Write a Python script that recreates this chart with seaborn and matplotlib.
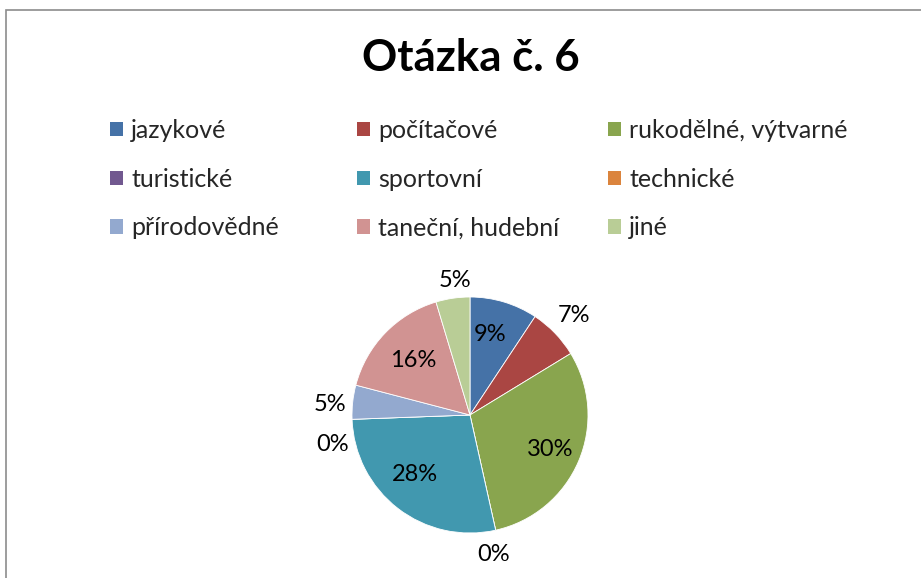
import numpy as np
import matplotlib
matplotlib.use("Agg")
import matplotlib.pyplot as plt
from matplotlib.patches import Rectangle
import seaborn as sns

# data
categories = ["jazykové", "počítačové", "rukodělné, výtvarné",
              "turistické", "sportovní", "technické",
              "přírodovědné", "taneční, hudební", "jiné"]
counts = [4, 3, 13, 0, 12, 0, 2, 7, 2]
title = "Otázka č. 6"

colors = ["#4572A7", "#AA4643", "#89A54E", "#71588F", "#4198AF",
          "#DB843D", "#93A9CF", "#D19392", "#B9CD96"]

# label placement (style only): radius factor and clockwise nudge in degrees
label_r = [0.70, 1.22, 0.74, 1.20, 0.69, 1.19, 1.19, 0.67, 1.15]
label_nudge = [-3, 0, 0, 3, 5, -10, -2, 0, 2]

sns.set_theme(style="white")
plt.rcParams["font.family"] = ["Lato", "DejaVu Sans"]

W, H = 921, 578
fig = plt.figure(figsize=(W / 100, H / 100), dpi=100)
ax = fig.add_axes([0, 0, 1, 1])

cx, cy, R = 470, H - 415, 118
pal = sns.color_palette(colors)
wedges, texts, autotexts = ax.pie(
    counts, colors=pal, startangle=90, counterclock=False,
    center=(cx, cy), radius=R, autopct="%1.0f%%",
    wedgeprops=dict(edgecolor="white", linewidth=0.6),
    textprops=dict(fontsize=17, color="black"))

total = sum(counts)
cum = np.cumsum(counts) / total
mid = cum - np.array(counts) / total / 2
for t, m, r, nd in zip(autotexts, mid, label_r, label_nudge):
    ang = np.deg2rad(90 - (360 * m + nd))
    t.set_position((cx + r * R * np.cos(ang), cy + r * R * np.sin(ang)))
    t.set_ha("center")
    t.set_va("center")

ax.set_xlim(0, W)
ax.set_ylim(0, H)
ax.set_aspect("equal")
ax.axis("off")

# chart frame
ax.add_patch(Rectangle((5.5, -20), W + 20, H - 9.5 + 20, fill=False,
                       edgecolor="#8c8c8c", linewidth=1.2, clip_on=False))

ax.text(471, H - 58, title, ha="center", va="center", fontsize=31.5,
        fontweight="bold", color="black")

# legend, three equal columns like Excel
col_x = [110, 357, 608]
for c in range(3):
    idx = [c, c + 3, c + 6]
    leg = fig.legend([wedges[i] for i in idx], [categories[i] for i in idx],
                     loc="upper left",
                     bbox_to_anchor=(col_x[c] / W, 1 - 119 / H),
                     frameon=False, fontsize=18, handlelength=0.52,
                     handleheight=0.52, handletextpad=0.32,
                     labelspacing=1.03, borderpad=0, borderaxespad=0)
    for h in leg.legend_handles:
        h.set_edgecolor("none")

fig.savefig("out.png", dpi=100)
